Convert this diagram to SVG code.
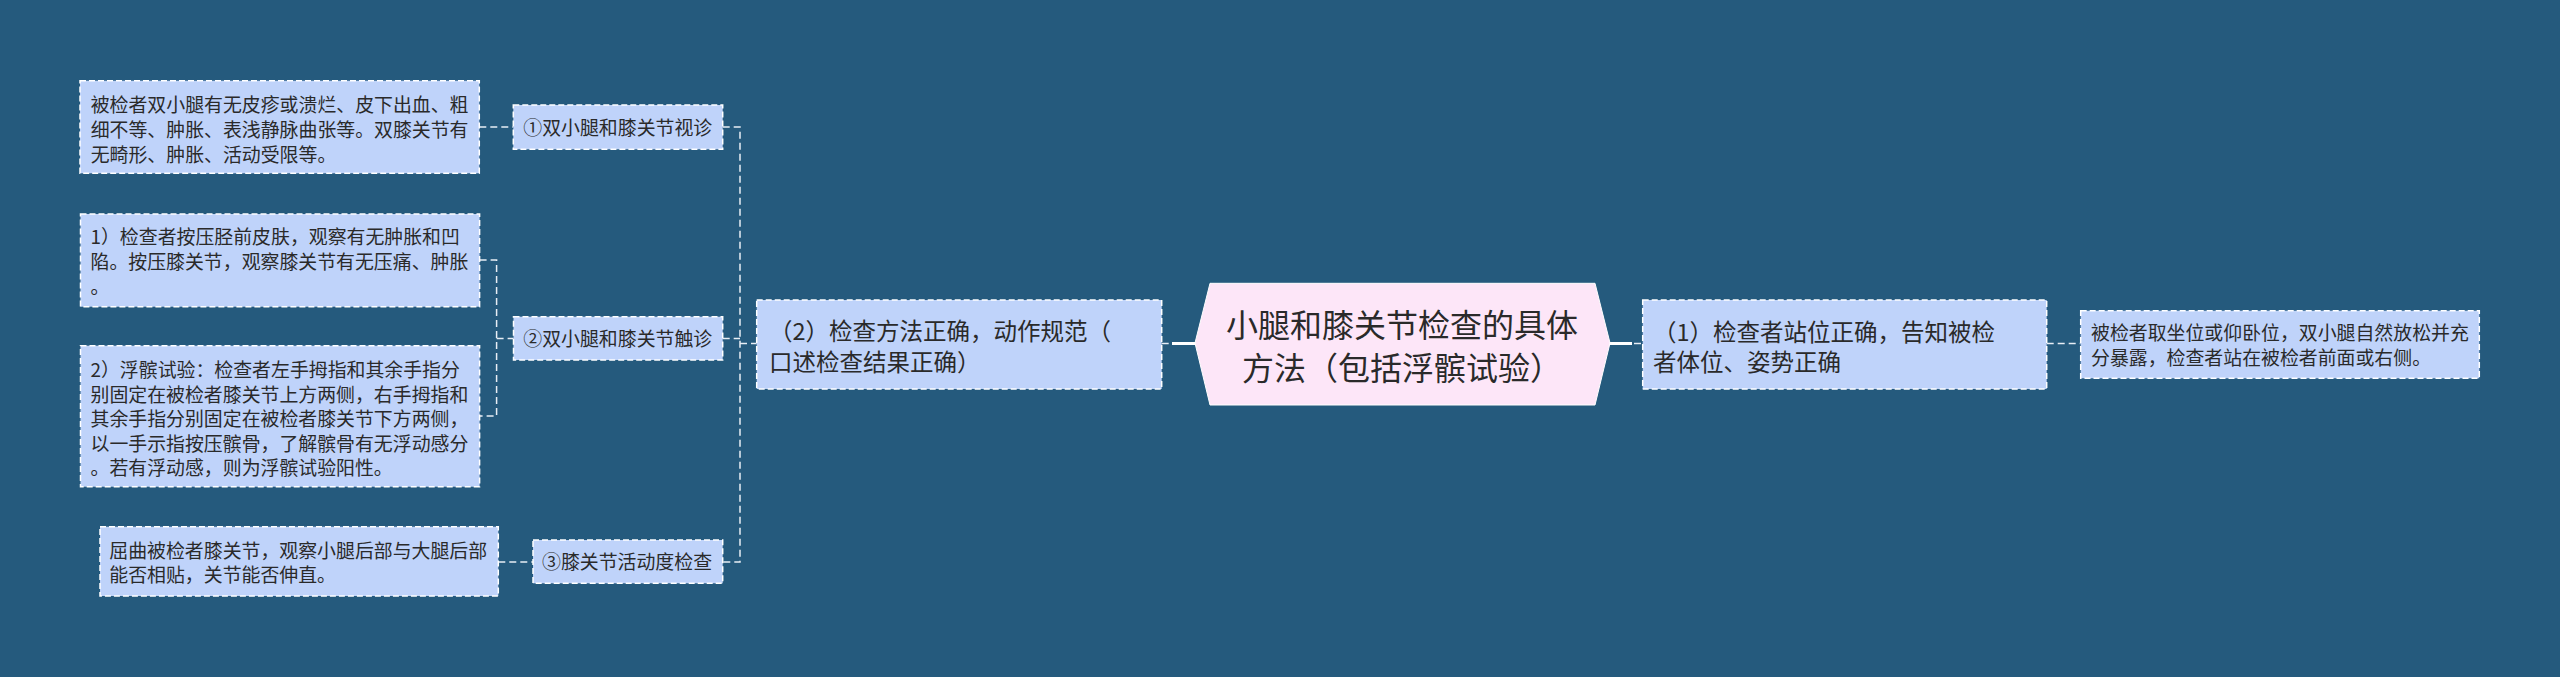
<svg xmlns="http://www.w3.org/2000/svg" width="2560" height="677" viewBox="0 0 2560 677">
<style>
.box{fill:#bfd3fa;stroke:#ffffff;stroke-width:1.5;stroke-dasharray:6 3}
.t{font-family:"Noto Sans CJK SC","Microsoft YaHei",sans-serif;fill:#2a2a2a}
.s{font-size:18.9px}
.m{font-size:23.5px}
.c{font-size:32px;text-anchor:middle}
.ln{fill:none;stroke:#e8eef5;stroke-width:1.5;stroke-dasharray:7 4}
.sl{fill:none;stroke:#ffffff;stroke-width:3}
</style>
<rect width="2560" height="677" fill="#255a7d"/>
<g id="connectors">
<path class="ln" d="M479.3,127 H513.3"/>
<path class="ln" d="M722.7,127 H740 V562 H722.7"/>
<path class="ln" d="M722.7,338.5 H740"/>
<path class="ln" d="M740,343.5 H756.7"/>
<path class="ln" d="M479.6,260 H496.6 V416 H479.6"/>
<path class="ln" d="M496.6,338.5 H513.5"/>
<path class="ln" d="M498.3,562 H533"/>
<path class="ln" d="M1161.7,343.5 H1172"/>
<path class="sl" d="M1172,343.5 H1196"/>
<path class="sl" d="M1609,343.5 H1632"/>
<path class="ln" d="M1634,343.5 H1642.7"/>
<path class="ln" d="M2046.7,343.5 H2080.7"/>
</g>
<g id="root">
<polygon points="1195,343 1210,283.3 1595,283.3 1610,343 1595,405 1210,405" fill="#fde6f8" stroke="#ffffff" stroke-width="1"/>
<text class="t c" x="1402" y="337">小腿和膝关节检查的具体</text>
<text class="t c" x="1402" y="380">方法（包括浮髌试验）</text>
</g>
<g id="n2">
<rect class="box" x="756.7" y="300" width="405" height="89"/>
<text class="t m" x="769" y="340">（2）检查方法正确，动作规范（</text>
<text class="t m" x="769" y="370.5">口述检查结果正确）</text>
</g>
<g id="n1">
<rect class="box" x="1642.7" y="300" width="404" height="89"/>
<text class="t m" x="1653" y="341">（1）检查者站位正确，告知被检</text>
<text class="t m" x="1653" y="371">者体位、姿势正确</text>
</g>
<g id="n1leaf">
<rect class="box" x="2080.7" y="310.7" width="398.6" height="67.6"/>
<text class="t s" x="2091" y="340.3">被检者取坐位或仰卧位，双小腿自然放松并充</text>
<text class="t s" x="2091" y="365.3">分暴露，检查者站在被检者前面或右侧。</text>
</g>
<g id="a1">
<rect class="box" x="513.3" y="105" width="209.4" height="44.3"/>
<text class="t s" x="523.3" y="135">①双小腿和膝关节视诊</text>
</g>
<g id="a1leaf">
<rect class="box" x="80" y="80.7" width="399.3" height="92.6"/>
<text class="t s" x="90.7" y="112">被检者双小腿有无皮疹或溃烂、皮下出血、粗</text>
<text class="t s" x="90.7" y="137">细不等、肿胀、表浅静脉曲张等。双膝关节有</text>
<text class="t s" x="90.7" y="162">无畸形、肿胀、活动受限等。</text>
</g>
<g id="a2">
<rect class="box" x="513.5" y="316.7" width="209.2" height="43.3"/>
<text class="t s" x="523.3" y="346">②双小腿和膝关节触诊</text>
</g>
<g id="a2leaf1">
<rect class="box" x="80.5" y="214" width="399.1" height="92.7"/>
<text class="t s" x="90.5" y="243.7">1）检查者按压胫前皮肤，观察有无肿胀和凹</text>
<text class="t s" x="90.5" y="268.7">陷。按压膝关节，观察膝关节有无压痛、肿胀</text>
<text class="t s" x="90.5" y="293.7">。</text>
</g>
<g id="a2leaf2">
<rect class="box" x="80.5" y="345.7" width="399.1" height="141"/>
<text class="t s" x="90.5" y="377">2）浮髌试验：检查者左手拇指和其余手指分</text>
<text class="t s" x="90.5" y="401.5">别固定在被检者膝关节上方两侧，右手拇指和</text>
<text class="t s" x="90.5" y="426">其余手指分别固定在被检者膝关节下方两侧，</text>
<text class="t s" x="90.5" y="450.5">以一手示指按压髌骨，了解髌骨有无浮动感分</text>
<text class="t s" x="90.5" y="475">。若有浮动感，则为浮髌试验阳性。</text>
</g>
<g id="a3">
<rect class="box" x="533" y="540" width="189.7" height="43.3"/>
<text class="t s" x="542" y="568.5">③膝关节活动度检查</text>
</g>
<g id="a3leaf">
<rect class="box" x="100" y="526.7" width="398.3" height="69.3"/>
<text class="t s" x="109.3" y="558">屈曲被检者膝关节，观察小腿后部与大腿后部</text>
<text class="t s" x="109.3" y="582">能否相贴，关节能否伸直。</text>
</g>
</svg>
